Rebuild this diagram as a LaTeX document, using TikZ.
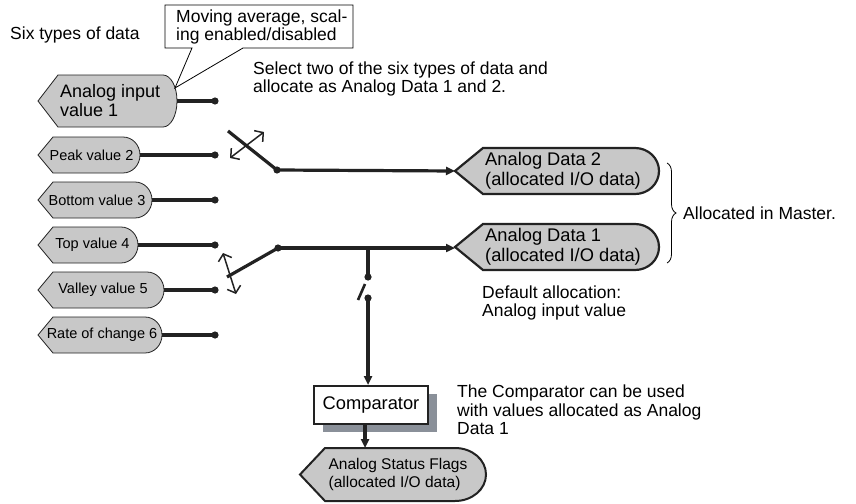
\documentclass[tikz,border=0pt]{standalone}
\usepackage{fontspec}
\setmainfont{Liberation Sans}
\usetikzlibrary{arrows.meta,decorations.pathreplacing,shadows}
\definecolor{TagFill}{HTML}{C8C8C8}
\definecolor{TagLine}{HTML}{222222}
\definecolor{ShadowGrey}{HTML}{8A9099}

% tip x, corner x, flat end x, right x, top y, bottom y
\newcommand\tagpath[6]{(#1,{(#5+#6)/2}) -- (#2,#5) -- (#3,#5)
  .. controls ({#3+0.55*(#4-#3)},#5) and (#4,{#5+0.22*(#6-#5)}) .. (#4,{(#5+#6)/2})
  .. controls (#4,{#6-0.22*(#6-#5)}) and ({#3+0.55*(#4-#3)},#6) .. (#3,#6)
  -- (#2,#6) -- cycle}

\tikzset{
  bigtext/.style={font=\fontsize{17.5}{18.5}\selectfont,inner sep=0pt},
  tagtext/.style={font=\fontsize{18.3}{20}\selectfont,inner sep=0pt},
  smalltext/.style={font=\fontsize{14.5}{16}\selectfont,inner sep=0pt},
  valuetag/.style={draw=TagLine,fill=TagFill,line width=.8pt},
  datatag/.style={draw=TagLine,fill=TagFill,line width=2.2pt},
  wire/.style={TagLine,line width=3.2pt},
  feed/.style={wire,-{Triangle[length=9pt,width=8pt]}},
  flip/.style={TagLine,line width=1.5pt,{Straight Barb[length=6pt,width=14pt]}-{Straight Barb[length=6pt,width=14pt]}}
}

\begin{document}
\begin{tikzpicture}[x=1pt,y=-1pt]
\path[use as bounding box] (0,0) rectangle (856,503);
\fill[white] (0,0) rectangle (856,503);

% six source values
\draw[valuetag] \tagpath{38}{58}{163}{177}{75}{127};
\draw[valuetag] \tagpath{38}{53}{123}{140}{137}{173};
\draw[valuetag] \tagpath{38}{53}{135}{152}{182}{218};
\draw[valuetag] \tagpath{38}{53}{121}{138}{227}{263};
\draw[valuetag] \tagpath{38}{53}{147}{164}{272}{308};
\draw[valuetag] \tagpath{38}{53}{145}{162}{317}{353};
\node[tagtext,font=\fontsize{18}{19}\selectfont,anchor=west,align=left] (v1) at (60,101) {Analog input\\value 1};
\node[smalltext] (v2) at (91.5,155) {Peak value 2};
\node[smalltext] (v3) at (97,200) {Bottom value 3};
\node[smalltext] (v4) at (92.5,245) {Top value 4};
\node[smalltext] (v5) at (103,290) {Valley value 5};
\node[smalltext] (v6) at (102,335) {Rate of change 6};
\coordinate (v1e) at (177,101);
\coordinate (v2e) at (140,155);
\coordinate (v3e) at (152,200);
\coordinate (v4e) at (138,245);
\coordinate (v5e) at (164,290);
\coordinate (v6e) at (162,335);
\coordinate (d1) at (215,101);
\coordinate (d2) at (215,155);
\coordinate (d3) at (215,200);
\coordinate (d4) at (215,245);
\coordinate (d5) at (215,290);
\coordinate (d6) at (215,335);
\draw[wire] (v1e) -- (d1);
\draw[wire] (v2e) -- (d2);
\draw[wire] (v3e) -- (d3);
\draw[wire] (v4e) -- (d4);
\draw[wire] (v5e) -- (d5);
\draw[wire] (v6e) -- (d6);
\fill[TagLine] (d1) circle (3.6) (d2) circle (3.6) (d3) circle (3.6)
  (d4) circle (3.6) (d5) circle (3.6) (d6) circle (3.6);

% allocated data
\draw[datatag] \tagpath{455}{483}{635}{659}{148}{194};
\draw[datatag] \tagpath{455}{483}{635}{659}{224}{270};
\node[tagtext,anchor=west,align=left] (ad2) at (485,171) {Analog Data 2\\(allocated I/O data)};
\node[tagtext,anchor=west,align=left] (ad1) at (485,247) {Analog Data 1\\(allocated I/O data)};
\coordinate (ad2w) at (455,171);
\coordinate (ad1w) at (455,248);

% selector switches
\coordinate (s2) at (277,170);
\coordinate (s2arm) at (228,131);
\coordinate (s1) at (278,248);
\coordinate (s1arm) at (227,277);
\draw[wire] (s2arm) -- (s2);
\draw[feed] (s2) -- (ad2w);
\draw[wire] (s1arm) -- (s1);
\draw[feed] (s1) -- (ad1w);
\fill[TagLine] (s2) circle (3.6) (s1) circle (3.6);
\draw[flip] (230,158) -- (264,132);
\draw[flip] (223,253) -- (236,294);

% comparator branch
\coordinate (j) at (368,248);
\coordinate (c1) at (368,277);
\coordinate (c2) at (368,298);
\draw[wire] (j) -- (c1);
\draw[TagLine,line width=2.6pt] (358,300) -- (365,284);
\fill[TagLine] (c1) circle (3.6) (c2) circle (3.6);
\node[tagtext,draw=TagLine,line width=2pt,fill=white,minimum width=114pt,minimum height=38pt,
  drop shadow={shadow xshift=9pt,shadow yshift=-8pt,fill=ShadowGrey,opacity=1}] (comp) at (371,405) {Comparator};
\draw[feed] (c2) -- (c2 |- comp.north);

\draw[valuetag,line width=2pt] \tagpath{300}{325}{455}{486}{448}{501};
\node[smalltext,font=\fontsize{15.5}{18}\selectfont,align=left] (flags) at (398,474) {Analog Status Flags\\(allocated I/O data)};
\coordinate (flagsin) at (365,448);
\draw[feed] (comp.south -| flagsin) -- (flagsin);

% notes
\node[bigtext,anchor=west] (title) at (10,35) {Six types of data};
\draw[fill=white,line width=.8pt] (165,5) -- (353,5) -- (353,48) -- (243,48) -- (175,88) -- (192,48) -- (165,48) -- cycle;
\node[bigtext,anchor=west,align=left] (callout) at (176,27) {Moving average, scal-\\ing enabled/disabled};
\node[bigtext,anchor=west,align=left] (select) at (253,79) {Select two of the six types of data and\\allocate as Analog Data 1 and 2.};
\draw[line width=.8pt,decorate,decoration={brace,amplitude=9pt}] (667,163) -- (667,263);
\node[bigtext,anchor=west] (master) at (683,213) {Allocated in Master.};
\node[bigtext,anchor=west,align=left] (default) at (482,303) {Default allocation:\\Analog input value};
\node[bigtext,anchor=west,align=left] (compnote) at (457,410) {The Comparator can be used\\with values allocated as Analog\\Data 1};
\end{tikzpicture}
\end{document}
